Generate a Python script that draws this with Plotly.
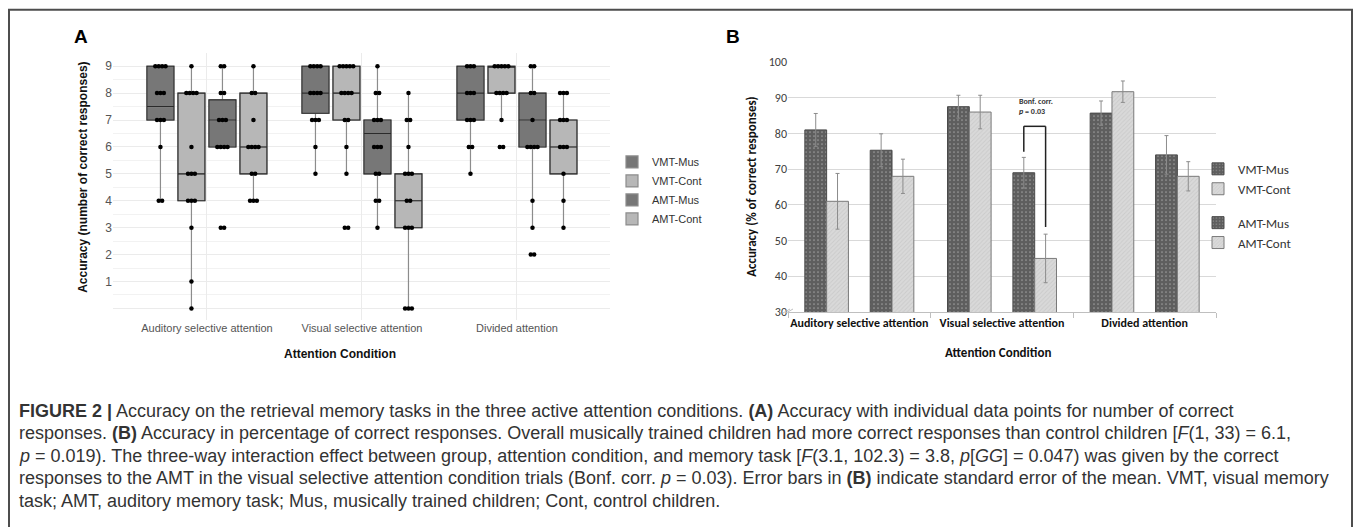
import plotly.graph_objects as go

W, H = 1359, 527
# vertical calibration of the capture (measured): image_y = 7.3 + 0.9725 * page_y
def PX(x): return x / W
def PY(y): return 1 - ((y - 7.3) / 0.9725) / H

# ---------------- Panel A data (box plots, number of correct responses) ----------------
conditions = ["Auditory selective attention", "Visual selective attention", "Divided attention"]
series = ["VMT-Mus", "VMT-Cont", "AMT-Mus", "AMT-Cont"]

box_q1 = {"VMT-Mus": [7, 7.25, 7], "VMT-Cont": [4, 7, 8], "AMT-Mus": [6, 5, 6], "AMT-Cont": [5, 3, 5]}
box_med = {"VMT-Mus": [7.5, 8, 8], "VMT-Cont": [5, 8, 9], "AMT-Mus": [7, 6.5, 7], "AMT-Cont": [6, 4, 6]}
box_q3 = {"VMT-Mus": [9, 9, 9], "VMT-Cont": [8, 9, 9], "AMT-Mus": [7.75, 7, 8], "AMT-Cont": [8, 5, 7]}
box_lo = {"VMT-Mus": [4, 5, 5], "VMT-Cont": [0, 5, 7], "AMT-Mus": [6, 3, 3], "AMT-Cont": [4, 0, 3]}
box_hi = {"VMT-Mus": [9, 9, 9], "VMT-Cont": [9, 9, 9], "AMT-Mus": [9, 9, 9], "AMT-Cont": [9, 8, 8]}

# individual data points (value list per condition)
points = {
    "VMT-Mus": [[9, 9, 9, 9, 8, 8, 8, 7, 7, 7, 6, 4, 4],
                [9, 9, 9, 9, 8, 8, 8, 8, 7, 7, 7, 6, 5],
                [9, 9, 9, 8, 8, 8, 7, 7, 7, 6, 6, 5]],
    "VMT-Cont": [[9, 8, 8, 8, 8, 6, 5, 5, 5, 4, 4, 4, 3, 1, 0],
                 [9, 9, 9, 9, 9, 8, 8, 8, 8, 7, 7, 6, 5, 3, 3],
                 [9, 9, 9, 9, 9, 8, 8, 8, 8, 7, 6, 6]],
    "AMT-Mus": [[9, 9, 8, 8, 7, 7, 7, 6, 6, 6, 6, 3, 3],
                [9, 8, 8, 7, 7, 7, 6, 6, 6, 5, 5, 4, 4, 3],
                [9, 9, 8, 8, 7, 6, 6, 6, 6, 4, 3, 2, 2]],
    "AMT-Cont": [[9, 8, 8, 7, 6, 6, 6, 6, 5, 5, 4, 4, 4],
                 [8, 7, 7, 6, 5, 5, 5, 4, 4, 3, 3, 3, 0, 0, 0],
                 [8, 8, 8, 7, 7, 7, 6, 6, 6, 5, 4, 3]],
}
a_yticks = [0, 1, 2, 3, 4, 5, 6, 7, 8, 9]
a_yticktext = ["", "1", "2", "3", "4", "5", "6", "7", "8", "9"]

# ---------------- Panel B data (bars, % correct) ----------------
bar_means = {"VMT-Mus": [81, 87.5, 85.7], "VMT-Cont": [61, 86, 91.7],
             "AMT-Mus": [75.3, 69, 74], "AMT-Cont": [68, 45, 68]}
bar_sem = {"VMT-Mus": [4.6, 3.2, 3.4], "VMT-Cont": [7.8, 4.7, 3.0],
           "AMT-Mus": [4.6, 4.3, 5.4], "AMT-Cont": [4.8, 6.8, 4.1]}
b_yticks = [30, 40, 50, 60, 70, 80, 90, 100]
bracket_top = 82

dark = "#777777"
light = "#b7b7b7"
box_fill = {"VMT-Mus": dark, "VMT-Cont": light, "AMT-Mus": dark, "AMT-Cont": light}

fig = go.Figure()

# ---- Panel A ----
boxgap, boxgroupgap = 0.2, 0.13
slot = (1 - boxgap) / len(series)
xcat = list(range(len(conditions)))
for s in series:
    # whiskers + filled box (grey lines, as in ggplot output)
    fig.add_trace(go.Box(
        x=xcat, q1=box_q1[s], median=box_med[s], q3=box_q3[s],
        lowerfence=box_lo[s], upperfence=box_hi[s], name=s, offsetgroup=s,
        fillcolor=box_fill[s], line=dict(color="#8c8c8c", width=1.2), whiskerwidth=0,
        boxpoints=False, xaxis="x", yaxis="y", legend="legend", hoverinfo="skip"))
for s in series:
    # dark outline + median drawn over the box
    fig.add_trace(go.Box(
        x=xcat, q1=box_q1[s], median=box_med[s], q3=box_q3[s],
        lowerfence=box_q1[s], upperfence=box_q3[s], name=s, offsetgroup=s, showlegend=False,
        fillcolor="rgba(0,0,0,0)", line=dict(color="#2a2a2a", width=1.1), whiskerwidth=0,
        boxpoints=False, xaxis="x", yaxis="y", hoverinfo="skip"))
for k, s in enumerate(series):
    center = -(1 - boxgap) / 2 + slot * (k + 0.5)
    xs, ys = [], []
    for ci, vals in enumerate(points[s]):
        for v in sorted(set(vals)):
            n = vals.count(v)
            for i in range(n):
                xs.append(ci + center + (i - (n - 1) / 2) * 0.022)
                ys.append(v)
    fig.add_trace(go.Scatter(x=xs, y=ys, mode="markers", marker=dict(color="black", size=4.5),
                             showlegend=False, xaxis="x", yaxis="y", hoverinfo="skip"))

# ---- Panel B ----
bargap = 0.236
bfont = "Carlito, 'Liberation Sans Narrow', 'Liberation Sans', sans-serif"
b_style = {
    "VMT-Mus": dict(color="#5e5e5e", pattern=dict(shape=".", fgcolor="#d8d8d8", bgcolor="#5e5e5e", size=4, solidity=0.15),
                    line=dict(color="#4a4a4a", width=1)),
    "VMT-Cont": dict(color="#d6d6d6", pattern=dict(shape="/", fgcolor="#bcbcbc", bgcolor="#d9d9d9", size=3, solidity=0.3),
                     line=dict(color="#7a7a7a", width=1)),
}
b_style["AMT-Mus"] = b_style["VMT-Mus"]
b_style["AMT-Cont"] = b_style["VMT-Cont"]
order = ["VMT-Mus", "VMT-Cont", None, "AMT-Mus", "AMT-Cont"]
for s in order:
    if s is None:
        fig.add_trace(go.Bar(x=conditions, y=[None] * 3, showlegend=False, xaxis="x2", yaxis="y2",
                             marker=dict(color="rgba(0,0,0,0)"), hoverinfo="skip"))
        continue
    fig.add_trace(go.Bar(
        x=conditions, y=bar_means[s], name=s, marker=b_style[s],
        error_y=dict(type="data", array=bar_sem[s], color="#8c8c8c", thickness=1, width=2),
        xaxis="x2", yaxis="y2", legend="legend2", legendgroup=s[:3]))

# bracket for Bonferroni annotation (visual selective attention: AMT-Mus vs AMT-Cont)
bslot = (1 - bargap) / len(order)
ci = conditions.index("Visual selective attention")
xm = ci + (order.index("AMT-Mus") - 2) * bslot
xc = ci + (order.index("AMT-Cont") - 2) * bslot
ym = bar_means["AMT-Mus"][ci] + bar_sem["AMT-Mus"][ci] + 1.6
yc = bar_means["AMT-Cont"][ci] + bar_sem["AMT-Cont"][ci] + 2
shapes = [
    dict(type="line", xref="x2", yref="y2", x0=xm, x1=xm, y0=ym, y1=bracket_top, line=dict(color="#222", width=1.5)),
    dict(type="line", xref="x2", yref="y2", x0=xm, x1=xc, y0=bracket_top, y1=bracket_top, line=dict(color="#222", width=1.5)),
    dict(type="line", xref="x2", yref="y2", x0=xc, x1=xc, y0=bracket_top, y1=yc, line=dict(color="#222", width=1.5)),
    # outer frame
    dict(type="rect", xref="paper", yref="paper", x0=PX(9), x1=PX(1352), y0=-0.1, y1=PY(10),
         line=dict(color="#4d4d4d", width=2)),
    # axis-break mark on panel B
    dict(type="line", xref="paper", yref="paper", x0=PX(783), x1=PX(790), y0=PY(313), y1=PY(309),
         line=dict(color="#bfbfbf", width=1)),
    dict(type="line", xref="paper", yref="paper", x0=PX(786), x1=PX(793), y0=PY(313), y1=PY(309),
         line=dict(color="#bfbfbf", width=1)),
]

annotations = [
    dict(text="<b>Bonf. corr.</b><br><b><i>p</i> = 0.03</b>", x=(xm + xc) / 2 + 0.01, y=bracket_top + 2.4,
         xref="x2", yref="y2", showarrow=False, yanchor="bottom", align="left",
         font=dict(family=bfont, size=8, color="#333")),
    dict(text="<b>A</b>", x=PX(72), y=PY(37), xref="paper", yref="paper", xanchor="left", yanchor="middle",
         showarrow=False, font=dict(family="Liberation Sans", size=19, color="black")),
    dict(text="<b>B</b>", x=PX(724), y=PY(37), xref="paper", yref="paper", xanchor="left", yanchor="middle",
         showarrow=False, font=dict(family="Liberation Sans", size=19, color="black")),
    dict(text="<b>Accuracy (number of correct responses)</b>", x=PX(83), y=PY(178), xref="paper", yref="paper",
         textangle=-90, showarrow=False, xanchor="center", yanchor="middle",
         font=dict(family="Liberation Sans", size=12, color="#111")),
    dict(text="<b>Attention Condition</b>", x=PX(340), y=PY(354), xref="paper", yref="paper",
         showarrow=False, xanchor="center", yanchor="middle",
         font=dict(family="Liberation Sans", size=12, color="#111")),
    dict(text="<b>Accuracy (% of correct responses)</b>", x=PX(752), y=PY(187), xref="paper", yref="paper",
         textangle=-90, showarrow=False, xanchor="center", yanchor="middle",
         font=dict(family=bfont, size=13, color="#111")),
    dict(text="<b>Attention Condition</b>", x=PX(998), y=PY(352), xref="paper", yref="paper",
         showarrow=False, xanchor="center", yanchor="middle",
         font=dict(family=bfont, size=13, color="#111")),
]

caption = [
    "<b>FIGURE 2 |</b> Accuracy on the retrieval memory tasks in the three active attention conditions. <b>(A)</b> Accuracy with individual data points for number of correct",
    "responses. <b>(B)</b> Accuracy in percentage of correct responses. Overall musically trained children had more correct responses than control children [<i>F</i>(1, 33) = 6.1,",
    "<i>p</i> = 0.019). The three-way interaction effect between group, attention condition, and memory task [<i>F</i>(3.1, 102.3) = 3.8, <i>p</i>[<i>GG</i>] = 0.047) was given by the correct",
    "responses to the AMT in the visual selective attention condition trials (Bonf. corr. <i>p</i> = 0.03). Error bars in <b>(B)</b> indicate standard error of the mean. VMT, visual memory",
    "task; AMT, auditory memory task; Mus, musically trained children; Cont, control children.",
]
cap_y = [410.7, 433, 455.5, 478, 500.5]
for t, yy in zip(caption, cap_y):
    annotations.append(dict(text=t, x=PX(17), y=PY(yy), xref="paper", yref="paper", xanchor="left",
                            yanchor="middle", showarrow=False,
                            font=dict(family="Liberation Sans", size=18, color="#333333")))

afont = dict(family="Liberation Sans", size=11, color="#555555")
fig.update_layout(
    width=W, height=H, autosize=False, margin=dict(l=0, r=0, t=0, b=0),
    paper_bgcolor="white", plot_bgcolor="white",
    boxmode="group", boxgap=boxgap, boxgroupgap=boxgroupgap,
    barmode="group", bargap=bargap, bargroupgap=0,
    xaxis=dict(domain=[PX(113), PX(610)], range=[-0.606, 2.6], tickvals=[0, 1, 2], ticktext=conditions,
               showgrid=True, gridcolor="#ebebeb", zeroline=False, showline=False, ticks="",
               tickfont=afont, anchor="y"),
    yaxis=dict(domain=[PY(320), PY(53)], range=[-0.43, 9.5], tickvals=a_yticks, ticktext=a_yticktext,
               showgrid=True, gridcolor="#ebebeb", zeroline=False, showline=False, ticks="",
               minor=dict(dtick=0.5, tick0=0.5, showgrid=True, gridcolor="#f2f2f2"),
               tickfont=dict(family="Liberation Sans", size=12, color="#555555"), anchor="x"),
    xaxis2=dict(domain=[PX(788), PX(1216)], type="category", tickson="boundaries", ticks="outside",
                ticklen=5, tickcolor="#bfbfbf", showline=True, linecolor="#bfbfbf", showgrid=False,
                tickangle=0,
                tickfont=dict(family=bfont, size=12, color="#111", weight="bold"), anchor="y2"),
    yaxis2=dict(domain=[PY(312), PY(62.3)], range=[30, 100], tickvals=b_yticks, showgrid=True,
                gridcolor="#d9d9d9", zeroline=False, showline=False, ticks="",
                tickfont=dict(family=bfont, size=12, color="#404040"), anchor="x2"),
    legend=dict(x=PX(612), y=PY(190.5), xanchor="left", yanchor="middle", bgcolor="rgba(0,0,0,0)",
                font=dict(family="Liberation Sans", size=11, color="#333")),
    legend2=dict(x=PX(1198), y=PY(206), xanchor="left", yanchor="middle", bgcolor="rgba(0,0,0,0)",
                 traceorder="grouped", tracegroupgap=14,
                 font=dict(family=bfont, size=13, color="#333")),
    shapes=shapes, annotations=annotations, showlegend=True,
)

fig.write_html("out.html", config={"displayModeBar": False},
               post_script="document.body.style.margin='0';document.body.style.overflow='hidden';")
